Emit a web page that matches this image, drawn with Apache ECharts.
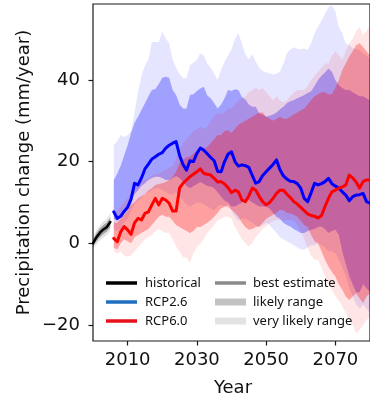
<!DOCTYPE html>
<html>
<head>
<meta charset="utf-8">
<script src="https://cdn.jsdelivr.net/npm/echarts@6/dist/echarts.min.js"></script>
<style>
html, body { margin: 0; padding: 0; background: #fff; }
#chart { width: 370px; height: 403px; }
</style>
</head>
<body>
<div id="chart"></div>
<script>
// Observed period (2000-2005)
const histYears = [2000, 2001, 2002, 2003, 2004, 2005];
const histBest = [0.0, 1.5, 2.6, 3.4, 4.0, 5.2];
const histLikelyLow = [-0.8, 0.5, 1.5, 2.3, 2.9, 4.0];
const histLikelyHigh = [0.8, 2.5, 3.7, 4.5, 5.1, 6.4];
const histVeryLow = [-1.5, -0.3, 0.7, 1.4, 2.0, 3.0];
const histVeryHigh = [1.5, 3.3, 4.5, 5.4, 6.0, 7.4];

// Scenario period, one value per year from 2006 to 2080
const rcpFirstYear = 2006;

const rcp26Best = [
  7.7, 6.1, 6.6, 7.8, 8.8, 10.8, 14.7, 14.3, 16.0, 18.2,
  19.4, 20.6, 21.2, 21.8, 22.2, 23.3, 24.0, 24.5, 24.9, 21.5,
  19.3, 17.9, 20.2, 20.0, 22.0, 23.3, 22.8, 21.9, 21.0, 20.2,
  17.6, 17.5, 20.0, 21.8, 22.4, 20.0, 18.9, 19.2, 19.0, 18.6,
  16.6, 14.7, 15.1, 16.6, 17.5, 18.4, 19.3, 20.4, 18.0, 16.5,
  15.7, 15.2, 15.1, 14.6, 13.5, 11.0, 10.2, 12.4, 14.7, 14.3,
  14.6, 15.1, 15.9, 14.6, 14.0, 13.5, 12.6, 11.8, 10.4, 11.4,
  11.8, 11.9, 12.2, 10.2, 9.8
];
const rcp26LikelyLow = [
  6.0, 5.5, 6.5, 8.0, 9.0, 10.5, 12.0, 13.0, 14.0, 14.7,
  15.5, 16.0, 16.3, 16.3, 16.0, 15.5, 15.5, 16.0, 16.5, 16.0,
  15.0, 14.0, 13.5, 14.0, 14.5, 15.0, 14.5, 14.0, 13.9, 13.5,
  12.5, 11.4, 10.5, 10.0, 9.0, 9.0, 9.5, 10.0, 10.6, 10.6,
  10.0, 9.5, 9.0, 9.0, 9.0, 8.5, 7.5, 6.5, 6.0, 5.0,
  4.5, 4.1, 3.5, 3.0, 2.5, 2.5, 3.0, 3.3, 3.5, 4.0,
  4.1, 3.5, 2.5, 3.0, 3.3, 2.0, -2.0, -5.0, -8.0, -10.0,
  -12.0, -12.0, -10.0, -11.0, -12.0
];
const rcp26LikelyHigh = [
  15.5, 17.0, 19.0, 21.5, 24.0, 27.0, 29.5, 31.0, 32.6, 34.3,
  36.0, 37.5, 37.8, 39.0, 40.5, 40.8, 40.5, 37.5, 36.3, 34.0,
  33.0, 33.0, 36.3, 36.5, 37.3, 37.9, 38.3, 36.2, 35.5, 34.3,
  33.0, 34.0, 35.5, 37.5, 37.3, 37.7, 37.5, 35.8, 35.2, 34.0,
  33.4, 33.4, 31.8, 31.5, 31.0, 31.2, 31.5, 32.0, 32.8, 33.4,
  34.3, 34.8, 35.0, 35.5, 35.9, 36.3, 36.8, 37.2, 38.5, 40.0,
  41.0, 41.8, 42.8, 42.0, 40.0, 38.7, 38.0, 37.5, 37.5, 37.0,
  36.5, 36.0, 36.0, 35.5, 35.0
];
const rcp26VeryLow = [
  3.5, 3.0, 3.5, 5.0, 6.0, 8.0, 9.5, 10.5, 11.0, 12.0,
  12.5, 13.0, 13.5, 13.5, 13.0, 12.5, 12.0, 12.0, 12.5, 11.5,
  10.5, 9.5, 9.0, 9.5, 10.0, 10.0, 9.5, 9.0, 8.5, 8.0,
  9.0, 9.5, 9.0, 9.5, 8.0, 6.5, 5.5, 6.0, 6.0, 5.5,
  5.0, 4.5, 4.0, 4.5, 5.0, 4.5, 3.5, 2.5, 1.5, 1.0,
  0.5, 0.0, -0.5, -1.0, -1.5, -1.5, -1.0, -0.5, -0.5, 0.0,
  -0.5, -1.0, -2.0, -2.0, -2.5, -4.0, -6.0, -8.0, -11.0, -13.0,
  -15.0, -16.0, -15.0, -16.0, -17.0
];
const rcp26VeryHigh = [
  24.0, 25.0, 26.5, 26.0, 26.5, 27.5, 32.0, 37.0, 41.0, 43.5,
  45.0, 49.3, 49.3, 49.3, 51.8, 50.2, 49.0, 45.0, 43.0, 41.5,
  40.4, 40.4, 43.6, 44.2, 45.0, 46.5, 46.0, 44.0, 43.0, 41.5,
  40.0, 42.5, 44.5, 46.0, 47.5, 50.0, 51.4, 49.0, 46.3, 45.0,
  46.3, 44.5, 43.0, 42.2, 41.8, 41.6, 41.3, 41.5, 42.0, 44.0,
  46.5, 47.5, 48.0, 47.6, 47.5, 47.7, 47.3, 49.0, 51.5, 53.0,
  54.5, 56.2, 57.8, 58.3, 56.7, 53.0, 51.4, 49.0, 48.5, 47.8,
  47.5, 47.3, 46.5, 46.0, 45.0
];

const rcp60Best = [
  1.2, 0.4, 2.8, 4.1, 3.3, 2.2, 5.0, 6.1, 5.7, 7.3,
  7.7, 9.4, 11.0, 9.4, 11.0, 10.6, 9.8, 7.9, 7.9, 13.5,
  14.7, 15.5, 16.3, 16.9, 17.5, 18.2, 17.1, 16.9, 16.7, 15.9,
  15.0, 15.1, 14.5, 13.6, 12.4, 13.0, 12.6, 10.6, 10.2, 11.6,
  13.5, 13.0, 11.5, 10.2, 9.4, 10.0, 11.0, 12.2, 13.0, 13.0,
  12.0, 11.2, 10.2, 9.6, 8.8, 8.0, 7.2, 6.8, 6.6, 6.2,
  6.8, 9.0, 11.0, 12.6, 13.0, 13.5, 13.8, 14.3, 16.7, 16.0,
  15.0, 13.5, 15.1, 15.5, 15.5
];
const rcp60LikelyLow = [
  -1.0, -1.5, 0.0, 1.0, 0.5, 0.0, 1.5, 2.0, 2.5, 3.0,
  3.5, 4.5, 5.5, 6.5, 7.0, 6.5, 6.5, 5.5, 4.5, 4.0,
  3.5, 3.0, 2.5, 3.0, 4.0, 4.0, 4.5, 5.0, 5.7, 6.5,
  7.5, 8.5, 9.0, 9.0, 8.2, 7.5, 6.5, 5.0, 4.0, 3.3,
  3.5, 4.0, 4.1, 5.0, 6.0, 6.5, 7.0, 7.5, 8.2, 8.0,
  7.5, 7.3, 7.0, 6.5, 5.5, 4.5, 4.0, 2.0, 0.5, 0.0,
  -2.0, -4.0, -5.7, -7.0, -8.2, -10.0, -11.4, -13.0, -13.9, -13.0,
  -12.2, -13.5, -14.6, -13.0, -12.2
];
const rcp60LikelyHigh = [
  5.0, 5.0, 6.0, 7.0, 8.0, 9.5, 10.0, 11.0, 11.5, 12.0,
  13.0, 13.5, 14.3, 14.5, 14.7, 15.0, 15.5, 16.3, 17.5, 19.6,
  20.5, 21.0, 21.2, 22.0, 22.4, 22.4, 23.0, 23.6, 24.5, 25.5,
  26.5, 26.5, 27.5, 27.7, 27.0, 28.0, 29.0, 29.5, 30.0, 30.5,
  31.0, 31.5, 32.0, 32.0, 31.0, 30.5, 30.0, 30.5, 31.0, 30.5,
  30.5, 31.0, 31.5, 32.0, 32.5, 33.0, 34.0, 35.0, 36.0, 36.5,
  37.0, 37.0, 36.5, 36.5, 38.0, 40.0, 42.4, 44.0, 45.7, 47.0,
  48.5, 49.0, 48.0, 47.0, 46.0
];
const rcp60VeryLow = [
  -2.0, -2.5, -2.0, -3.0, -3.3, -3.0, -2.0, -1.0, 0.0, 1.0,
  1.5, 2.0, 3.0, 3.5, 3.0, 2.5, 2.5, 1.0, -0.8, -2.0,
  -3.5, -3.5, -4.9, -2.4, -1.0, 0.0, 1.0, 2.5, 3.5, 4.5,
  5.5, 6.0, 6.5, 6.5, 6.0, 4.0, 2.5, 1.0, 0.0, -0.8,
  0.0, 1.5, 2.5, 3.5, 4.1, 5.0, 5.5, 5.7, 5.7, 5.5,
  5.7, 5.7, 5.5, 4.5, 3.0, 1.0, -1.0, -3.0, -4.0, -4.1,
  -6.0, -8.0, -10.0, -11.4, -13.0, -14.0, -15.5, -17.0, -18.8, -20.0,
  -22.0, -21.2, -20.0, -18.8, -18.0
];
const rcp60VeryHigh = [
  7.0, 8.0, 9.0, 10.0, 11.0, 12.5, 14.0, 15.0, 15.5, 15.5,
  16.0, 16.5, 17.0, 17.0, 17.5, 18.0, 18.5, 19.0, 21.0, 23.0,
  24.5, 25.5, 26.5, 27.5, 28.0, 28.5, 28.0, 28.5, 30.0, 31.0,
  32.0, 31.5, 32.0, 33.0, 33.0, 34.0, 35.0, 35.5, 36.0, 37.0,
  37.5, 38.0, 37.5, 38.0, 37.0, 36.0, 35.0, 36.0, 35.0, 34.5,
  35.0, 36.0, 37.0, 37.5, 37.5, 37.5, 38.5, 40.0, 41.0, 42.0,
  43.0, 44.0, 44.0, 46.0, 47.0, 46.0, 45.0, 47.0, 49.0, 50.0,
  52.0, 53.0, 51.0, 52.0, 53.0
];

const yTicks = [-20, 0, 20, 40];
const xTicks = [2010, 2030, 2050, 2070];

const rcpYears = rcp26Best.map((_, i) => rcpFirstYear + i);

function pairs(xs, ys) {
  return xs.map((x, i) => [x, ys[i]]);
}

// A shaded range: one polygon through the upper edge and back along the lower edge,
// placed with the axes' own coordinate conversion.
function band(id, xs, low, high, color, alpha) {
  return {
    name: id,
    type: 'custom',
    silent: true,
    clip: true,
    z: 2,
    encode: { x: 0, y: [1, 2] },
    data: xs.map((x, i) => [x, low[i], high[i]]),
    renderItem: function (params, api) {
      if (params.dataIndex !== 0) return null;
      const pts = [];
      for (let i = 0; i < xs.length; i++) pts.push(api.coord([xs[i], high[i]]));
      for (let i = xs.length - 1; i >= 0; i--) pts.push(api.coord([xs[i], low[i]]));
      return {
        type: 'polygon',
        shape: { points: pts },
        style: { fill: color, opacity: alpha }
      };
    }
  };
}

function line(name, xs, ys, color, width) {
  return {
    name: name,
    type: 'line',
    data: pairs(xs, ys),
    symbol: 'none',
    silent: true,
    lineStyle: { color: color, width: width, cap: 'round', join: 'round' },
    z: 5
  };
}

const series = [
  band('histVery', histYears, histVeryLow, histVeryHigh, '#000000', 0.1),
  band('histLikely', histYears, histLikelyLow, histLikelyHigh, '#000000', 0.3),
  band('rcp26Very', rcpYears, rcp26VeryLow, rcp26VeryHigh, '#0000ff', 0.1),
  band('rcp26Likely', rcpYears, rcp26LikelyLow, rcp26LikelyHigh, '#0000ff', 0.3),
  band('rcp60Very', rcpYears, rcp60VeryLow, rcp60VeryHigh, '#ff0000', 0.1),
  band('rcp60Likely', rcpYears, rcp60LikelyLow, rcp60LikelyHigh, '#ff0000', 0.3),
  line('historical', histYears, histBest, '#000000', 2.5),
  line('RCP2.6', rcpYears, rcp26Best, '#0000ff', 3),
  line('RCP6.0', rcpYears, rcp60Best, '#ff0000', 3)
];

const tickFont = { fontFamily: 'DejaVu Sans', fontSize: 18, color: '#111' };
const legendFont = '13px "Noto Sans"';

const legendRows = [283, 302, 321];
const legendEntries = [
  { col: 0, row: 0, text: 'historical', color: '#000000', width: 3.5 },
  { col: 0, row: 1, text: 'RCP2.6', color: '#1f6fc0', width: 3.5 },
  { col: 0, row: 2, text: 'RCP6.0', color: '#e8101a', width: 3.5 },
  { col: 1, row: 0, text: 'best estimate', color: '#8a8a8a', width: 3.5 },
  { col: 1, row: 1, text: 'likely range', color: '#c2c2c2', width: 7 },
  { col: 1, row: 2, text: 'very likely range', color: '#e3e3e3', width: 7 }
];
const legendCols = [{ x1: 106, x2: 137, tx: 145 }, { x1: 215, x2: 246, tx: 253 }];

const graphics = [];
legendEntries.forEach(e => {
  const c = legendCols[e.col];
  const y = legendRows[e.row];
  graphics.push({
    type: 'line',
    shape: { x1: c.x1, y1: y, x2: c.x2, y2: y },
    style: { stroke: e.color, lineWidth: e.width },
    z: 10
  });
  graphics.push({
    type: 'text',
    x: c.tx, y: y,
    style: { text: e.text, font: legendFont, fill: '#111', verticalAlign: 'middle' },
    z: 10
  });
});
graphics.push({
  type: 'text', x: 24, y: 172.5, rotation: Math.PI / 2,
  style: { text: 'Precipitation change (mm/year)', font: '18px "DejaVu Sans"', fill: '#111', align: 'center', verticalAlign: 'middle' }
});
graphics.push({
  type: 'text', x: 233, y: 388,
  style: { text: 'Year', font: '18px "DejaVu Sans"', fill: '#111', align: 'center', verticalAlign: 'middle' }
});

const chart = echarts.init(document.getElementById('chart'), null, { renderer: 'canvas' });
chart.setOption({
  animation: false,
  backgroundColor: '#ffffff',
  grid: {
    left: 93, top: 4, width: 280, height: 337,
    show: true, borderColor: '#1a1a1a', borderWidth: 1.2, backgroundColor: 'transparent'
  },
  xAxis: {
    type: 'value', min: 2000, max: 2080,
    axisLine: { show: false, onZero: false },
    splitLine: { show: false },
    axisTick: { show: true, customValues: xTicks, length: 4.5, lineStyle: { color: '#1a1a1a', width: 1.2 } },
    axisLabel: Object.assign({ customValues: xTicks, margin: 10, formatter: v => String(v) }, tickFont)
  },
  yAxis: {
    type: 'value', min: -23.92, max: 58.58,
    axisLine: { show: false, onZero: false },
    splitLine: { show: false },
    axisTick: { show: true, customValues: yTicks, length: 4.5, lineStyle: { color: '#1a1a1a', width: 1.2 } },
    axisLabel: Object.assign({
      customValues: yTicks, margin: 13,
      formatter: v => (v < 0 ? '\u2212' + Math.abs(v) : String(v))
    }, tickFont)
  },
  series: series,
  graphic: graphics
});
</script>
</body>
</html>
